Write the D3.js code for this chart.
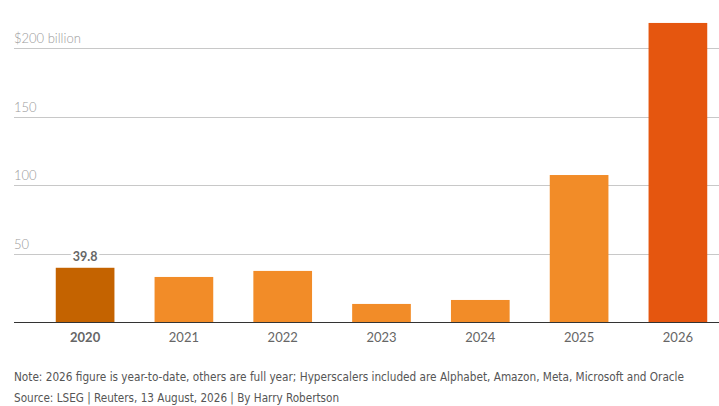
<!DOCTYPE html>
<html>
<head>
<meta charset="utf-8">
<script src="https://cdn.jsdelivr.net/npm/d3@7"></script>
<style>
  html, body { margin: 0; padding: 0; background: #fff; }
  svg { display: block; }
</style>
</head>
<body>
<svg id="chart" width="719" height="406"></svg>
<script>
const years = ["2020", "2021", "2022", "2023", "2024", "2025", "2026"];
const values = [39.8, 33.1, 37.5, 13.4, 16.3, 107.5, 218.5];
const barColors = ["#c46300", "#f28c28", "#f28c28", "#f28c28", "#f28c28", "#f28c28", "#e5560f"];
const yTicks = [50, 100, 150, 200];
const yTickLabels = ["50", "100", "150", "$200 billion"];
const highlightLabel = "39.8";
const noteText = "Note: 2026 figure is year-to-date, others are full year; Hyperscalers included are Alphabet, Amazon, Meta, Microsoft and Oracle";
const sourceText = "Source: LSEG | Reuters, 13 August, 2026 | By Harry Robertson";

const svg = d3.select("#chart");
const W = 719;
const left = 14;
const baseY = 322.3;
const topY = 48.3;

const y = d3.scaleLinear().domain([0, 200]).range([baseY, topY]);
const x = d3.scaleBand().domain(years).range([36, 727]).paddingInner(0.406).paddingOuter(0.2);

const font = "Lato, 'Open Sans', sans-serif";

// gridlines
const grid = svg.append("g");
grid.selectAll("line").data(yTicks).join("line")
  .attr("x1", left).attr("x2", W)
  .attr("y1", d => Math.round(y(d)) + 0.5).attr("y2", d => Math.round(y(d)) + 0.5)
  .attr("stroke", "#c8c8c8").attr("stroke-width", 1);
grid.selectAll("text").data(yTicks).join("text")
  .attr("x", left).attr("y", d => y(d) - 5)
  .attr("font-family", font).attr("font-size", 13).attr("font-weight", 300)
  .attr("fill", "#9a9a9a")
  .text((d, i) => yTickLabels[i]);

// bars
svg.append("g").selectAll("rect").data(years).join("rect")
  .attr("x", d => x(d)).attr("width", x.bandwidth())
  .attr("y", (d, i) => y(values[i])).attr("height", (d, i) => baseY - y(values[i]))
  .attr("fill", (d, i) => barColors[i]);

// baseline axis
svg.append("line")
  .attr("x1", left).attr("x2", W)
  .attr("y1", Math.round(baseY) + 0.5).attr("y2", Math.round(baseY) + 0.5)
  .attr("stroke", "#333").attr("stroke-width", 1.2);

// x labels
const xAxis = d3.axisBottom(x).tickSize(0).tickPadding(0);
const xg = svg.append("g").attr("transform", `translate(0,${baseY})`).call(xAxis);
xg.select(".domain").remove();
xg.selectAll("text")
  .attr("y", 20).attr("dy", 0)
  .attr("font-family", font).attr("font-size", 13)
  .attr("fill", "#666")
  .attr("font-weight", d => d === "2020" ? 700 : 400);

// value label with halo
const lx = x("2020") + x.bandwidth() / 2;
const ly = y(values[0]) - 7;
svg.append("text")
  .attr("x", lx).attr("y", ly).attr("text-anchor", "middle")
  .attr("font-family", font).attr("font-size", 12.5).attr("font-weight", 700)
  .attr("stroke", "#fff").attr("stroke-width", 5).attr("stroke-linejoin", "round")
  .attr("fill", "#fff")
  .text(highlightLabel);
svg.append("text")
  .attr("x", lx).attr("y", ly).attr("text-anchor", "middle")
  .attr("font-family", font).attr("font-size", 12.5).attr("font-weight", 700)
  .attr("fill", "#666")
  .text(highlightLabel);

// footer
const footFont = "'Liberation Sans Narrow', 'DejaVu Sans Condensed', 'Roboto Condensed', Roboto, sans-serif";
svg.append("text")
  .attr("x", left).attr("y", 381)
  .attr("font-family", footFont).attr("font-size", 12)
  .attr("fill", "#555")
  .attr("textLength", 670).attr("lengthAdjust", "spacingAndGlyphs")
  .text(noteText);
svg.append("text")
  .attr("x", left).attr("y", 402)
  .attr("font-family", footFont).attr("font-size", 12)
  .attr("fill", "#555")
  .attr("textLength", 325).attr("lengthAdjust", "spacingAndGlyphs")
  .text(sourceText);
</script>
</body>
</html>
